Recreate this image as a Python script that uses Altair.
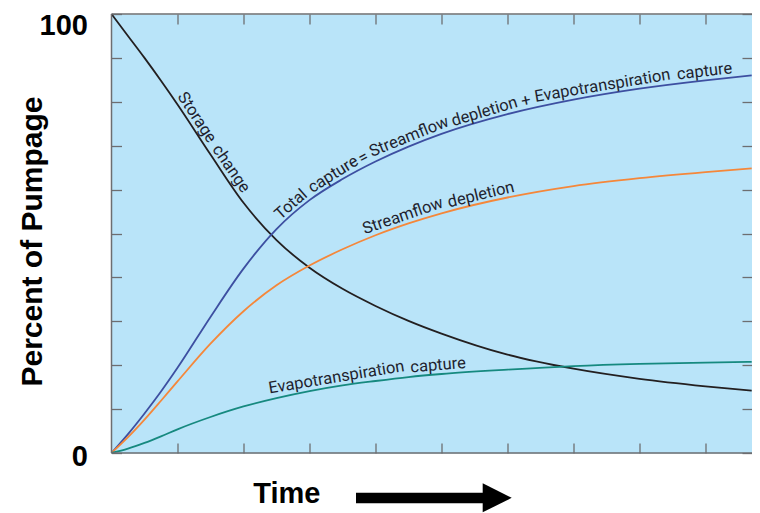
import math
import altair as alt
import numpy as np
import pandas as pd

# ---- data ----
time = [0, 0.25, 0.5, 0.75, 1, 1.5, 2, 2.5, 3, 3.5, 4, 4.5, 5, 6, 7, 8, 9, 9.7]
storage_change = [100, 95.0, 90.0, 84.8, 79.4, 68.0, 57.0, 48.5, 42.2, 37.4, 33.5, 30.1, 27.2, 22.4, 19.2, 16.9, 15.2, 14.2]
total_capture = [0, 4.3, 9.0, 14.0, 19.4, 31.0, 42.0, 51.0, 57.6, 62.4, 66.4, 69.8, 72.7, 77.2, 80.5, 83.0, 84.9, 86.0]
streamflow_depletion = [0, 3.6, 7.6, 11.9, 16.3, 24.9, 32.3, 38.2, 42.7, 46.4, 49.6, 52.3, 54.6, 58.2, 60.8, 62.6, 64.0, 64.85]
et_capture = [0, 1.0, 2.3, 3.8, 5.4, 8.2, 10.6, 12.5, 14.1, 15.4, 16.4, 17.3, 18.0, 19.0, 19.8, 20.3, 20.6, 20.75]

series_names = ["Storage change", "Total capture", "Streamflow depletion", "Evapotranspiration capture"]
series_colors = ["#231f20", "#3d4fa1", "#f5873a", "#16897f"]
series_values = [storage_change, total_capture, streamflow_depletion, et_capture]

# curve labels: word, curve it follows, time of the point on the curve it sits beside
label_words = ["Storage", "change",
               "Total", "capture", "=", "Streamflow", "depletion", "+", "Evapotranspiration", "capture",
               "Streamflow", "depletion",
               "Evapotranspiration", "capture"]
label_series = [0, 0,
                1, 1, 1, 1, 1, 1, 1, 1,
                2, 2,
                3, 3]
label_time = [1.18, 1.70,
              2.81, 3.43, 3.88, 4.56, 5.69, 6.31, 7.46, 9.0,
              4.46, 5.63,
              3.43, 4.96]

y_ticks = list(range(0, 101, 10))
x_ticks = list(range(1, 10))

# ---- layout ----
W, H = 640.5, 439
PX_PER_T = 66.0
XDOM = [0, W / PX_PER_T]
PX_PER_Y = H / 100.0
GAP = 9.0  # distance of label centre from its curve, px

rows = []
for name, vals in zip(series_names, series_values):
    for t, v in zip(time, vals):
        rows.append({"series": name, "time": t, "value": v})
df = pd.DataFrame(rows)

# place each word beside its curve, rotated to the curve's direction
lab_rows = []
tarr = np.array(time, dtype=float)
for word, si, tc in zip(label_words, label_series, label_time):
    v = np.array(series_values[si], dtype=float)
    yc = float(np.interp(tc, tarr, v))
    dv = float(np.interp(tc + 0.12, tarr, v) - np.interp(tc - 0.12, tarr, v)) / 0.24
    s = -dv * PX_PER_Y / PX_PER_T          # screen slope (y down)
    norm = math.hypot(1.0, s)
    dx_px = GAP * s / norm                  # normal pointing "above" the curve
    dy_px = -GAP / norm
    ang = math.degrees(math.atan(s)) % 360
    lab_rows.append({
        "word": word,
        "time": tc + dx_px / PX_PER_T,
        "value": yc - dy_px / PX_PER_Y,
        "angle": ang,
    })
labels_df = pd.DataFrame(lab_rows)

FRAME = "#6d6e71"
BOLD_FONT = "Liberation Sans"
LABEL_FONT = "Roboto"

xscale = alt.Scale(domain=XDOM, nice=False, zero=False)
yscale = alt.Scale(domain=[0, 100], nice=False)

lines = alt.Chart(df).mark_line(strokeWidth=1.8, interpolate="monotone").encode(
    x=alt.X("time:Q", scale=xscale, axis=alt.Axis(
        orient="bottom", values=x_ticks, tickSize=10, offset=-10, domain=False, labels=False,
        grid=False, tickColor=FRAME, tickWidth=1.3,
        title="Time", titleFont=BOLD_FONT, titleFontSize=29, titleFontWeight="bold", titleColor="black",
        titleX=174.8, titleY=59, titleAlign="center", titleBaseline="alphabetic")),
    y=alt.Y("value:Q", scale=yscale, axis=alt.Axis(
        orient="left", values=y_ticks, tickSize=10, offset=-10, domain=False, grid=False,
        tickColor=FRAME, tickWidth=1.3,
        labelExpr="datum.value == 0 || datum.value == 100 ? datum.label : ''",
        labelFont=BOLD_FONT, labelFontSize=29, labelFontWeight="bold", labelColor="black",
        labelPadding=24, labelOverlap=False,
        labelBaseline={"condition": {"test": "datum.value == 100", "value": "top"}, "value": "middle"},
        labelOffset={"condition": {"test": "datum.value == 100", "value": -3}, "value": 3},
        title="Percent of Pumpage", titleFont=BOLD_FONT, titleFontSize=30, titleFontWeight="bold",
        titleColor="black", titleAngle=270, titleX=-80, titleY=227, titleAlign="center",
        titleBaseline="alphabetic")),
    color=alt.Color("series:N", scale=alt.Scale(domain=series_names, range=series_colors), legend=None),
)

texts = alt.Chart(labels_df).mark_text(
    font=LABEL_FONT, fontSize=16.5, color="#1f1f2e", align="center", baseline="middle"
).encode(
    x=alt.X("time:Q", scale=xscale, axis=alt.Axis(
        orient="top", values=x_ticks, tickSize=10, offset=-10, domain=False, labels=False,
        grid=False, tickColor=FRAME, tickWidth=1.3, title=None)),
    y=alt.Y("value:Q", scale=yscale, axis=alt.Axis(
        orient="right", values=y_ticks, tickSize=10, offset=-10, domain=False, labels=False,
        grid=False, tickColor=FRAME, tickWidth=1.3, title=None)),
    text="word:N",
    angle=alt.Angle("angle:Q", scale=None),
)

one = pd.DataFrame({"k": [0]})
frame_left = alt.Chart(one).mark_rule(color=FRAME, strokeWidth=1.5).encode(
    x=alt.value(0), y=alt.value(0), y2=alt.value(H))
frame_top = alt.Chart(one).mark_rule(color=FRAME, strokeWidth=1.5).encode(
    x=alt.value(0), x2=alt.value(W), y=alt.value(0))
frame_bottom = alt.Chart(one).mark_rule(color=FRAME, strokeWidth=1.5).encode(
    x=alt.value(0), x2=alt.value(W), y=alt.value(H))

arrow_shaft = alt.Chart(one).mark_rule(color="black", strokeWidth=10.5, strokeCap="butt").encode(
    x=alt.value(244.5), x2=alt.value(373), y=alt.value(484))
arrow_head = alt.Chart(one).mark_point(
    shape="M-1,-1L1,0L-1,1Z", filled=True, size=841, color="black", opacity=1
).encode(x=alt.value(385.7), y=alt.value(483.8))

chart = alt.layer(lines, texts, frame_left, frame_top, frame_bottom, arrow_shaft, arrow_head).resolve_axis(
    x="independent", y="independent"
).properties(
    width=W, height=H,
    autosize=alt.AutoSizeParams(type="none"),
    padding={"left": 103.5, "top": 6, "right": 0, "bottom": 60},
).configure_view(fill="#b9e4f9", stroke="transparent")

chart.save("out.html", embed_options={"renderer": "svg", "actions": False})
